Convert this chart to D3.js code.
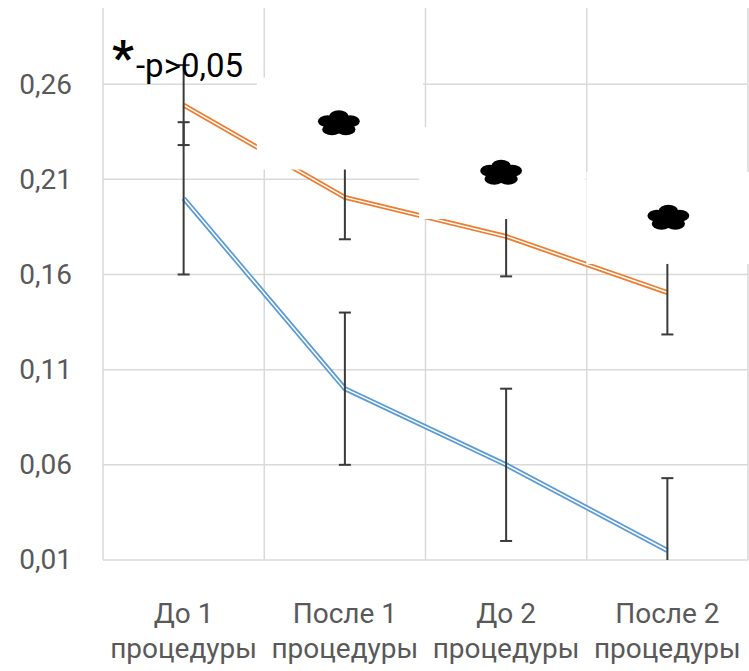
<!DOCTYPE html>
<html>
<head>
    <meta charset="utf-8">
    <title>chart</title>
    <script src="https://cdnjs.cloudflare.com/ajax/libs/d3/7.8.5/d3.min.js"></script>
    <style>
        body { margin: 0; background: #fff; }
        text { font-family: Roboto, "Open Sans", sans-serif; }
    </style>
</head>
<body>
    <div id="wrapper"></div>

    <script>
        // values
        const stages = ["До 1", "После 1", "До 2", "После 2"];
        const stageSub = ["процедуры", "процедуры", "процедуры", "процедуры"];
        const blueValues = [0.200, 0.100, 0.060, 0.015];
        const blueErrors = [0.040, 0.040, 0.040, 0.038];
        const orangeValues = [0.249, 0.2005, 0.180, 0.1505];
        const orangeErrors = [0.021, 0.022, 0.021, 0.022];
        const yTicks = [0.01, 0.06, 0.11, 0.16, 0.21, 0.26];
        const yTickLabels = ["0,01", "0,06", "0,11", "0,16", "0,21", "0,26"];
        const markStages = ["После 1", "До 2", "После 2"];
        const markValues = [0.2393, 0.2133, 0.1897];

        const dimensions = {
            width: 749,
            height: 671,
            margin: { top: 8, right: 1, bottom: 111, left: 103 }
        };
        dimensions.boundedWidth = dimensions.width - dimensions.margin.left - dimensions.margin.right;
        dimensions.boundedHeight = dimensions.height - dimensions.margin.top - dimensions.margin.bottom;

        const blue = "#5B9BD5";
        const orange = "#ED7D31";
        const grid = "#D9D9D9";
        const labelColor = "#595959";

        const wrapper = d3.select("#wrapper").append("svg")
            .attr("width", dimensions.width)
            .attr("height", dimensions.height);

        const bounds = wrapper.append("g")
            .attr("transform", `translate(${dimensions.margin.left},${dimensions.margin.top})`);

        bounds.append("clipPath").attr("id", "plot-clip")
            .append("rect")
            .attr("width", dimensions.boundedWidth)
            .attr("height", dimensions.boundedHeight);

        const xScale = d3.scaleBand().domain(stages).range([0, dimensions.boundedWidth]);
        const yScale = d3.scaleLinear().domain([0.01, 0.30]).range([dimensions.boundedHeight, 0]);
        const xCenter = s => xScale(s) + xScale.bandwidth() / 2;

        // gridlines
        bounds.append("g").selectAll("line").data(yTicks).join("line")
            .attr("x1", 0).attr("x2", dimensions.boundedWidth)
            .attr("y1", d => yScale(d)).attr("y2", d => yScale(d))
            .attr("stroke", grid).attr("stroke-width", 1.5);

        const edges = stages.map(s => xScale(s)).concat([dimensions.boundedWidth]);
        bounds.append("g").selectAll("line").data(edges).join("line")
            .attr("x1", d => d).attr("x2", d => d)
            .attr("y1", 0).attr("y2", dimensions.boundedHeight)
            .attr("stroke", grid).attr("stroke-width", 1.5);

        // axes
        const yAxis = bounds.append("g")
            .call(d3.axisLeft(yScale).tickValues(yTicks).tickFormat((d, i) => yTickLabels[i]).tickSize(0).tickPadding(31));
        yAxis.select(".domain").remove();
        yAxis.selectAll("text")
            .style("font-family", "Roboto, sans-serif")
            .attr("font-size", 28).attr("fill", labelColor);

        const xAxis = bounds.append("g")
            .attr("transform", `translate(0,${dimensions.boundedHeight})`)
            .call(d3.axisBottom(xScale).tickSize(0).tickFormat(() => ""));
        xAxis.select(".domain").remove();
        xAxis.selectAll(".tick text").each(function (d, i) {
            const t = d3.select(this)
                .attr("y", 0).attr("dy", 0)
                .attr("font-size", 28).attr("fill", labelColor)
                .style("font-family", "Roboto, sans-serif");
            t.append("tspan").attr("x", 0).attr("y", 63).text(stages[i]);
            t.append("tspan").attr("x", 0).attr("y", 98).text(stageSub[i]);
        });

        // double (compound) lines
        const series = [
            { values: blueValues, errors: blueErrors, color: blue },
            { values: orangeValues, errors: orangeErrors, color: orange }
        ];
        const lineGenerator = d3.line()
            .x((d, i) => xCenter(stages[i]))
            .y(d => yScale(d));

        series.forEach(s => {
            bounds.append("path").attr("d", lineGenerator(s.values))
                .attr("fill", "none").attr("stroke", s.color).attr("stroke-width", 5)
                .attr("stroke-linejoin", "round");
            bounds.append("path").attr("d", lineGenerator(s.values))
                .attr("fill", "none").attr("stroke", "#fff").attr("stroke-width", 1.5)
                .attr("stroke-linejoin", "round");
        });

        // error bars
        const errLayer = bounds.append("g").attr("clip-path", "url(#plot-clip)")
            .attr("stroke", "#3a3a3a").attr("stroke-width", 2);
        series.forEach(s => {
            s.values.forEach((v, i) => {
                const cx = xCenter(stages[i]);
                const top = yScale(v + s.errors[i]);
                const bottom = yScale(v - s.errors[i]);
                errLayer.append("line").attr("x1", cx).attr("x2", cx).attr("y1", top).attr("y2", bottom);
                errLayer.append("line").attr("x1", cx - 6).attr("x2", cx + 6).attr("y1", top).attr("y2", top);
                errLayer.append("line").attr("x1", cx - 6).attr("x2", cx + 6).attr("y1", bottom).attr("y2", bottom);
            });
        });

        // white boxes with black flower marks
        const markShift = [-6, -5, 1];
        markStages.forEach((s, i) => {
            const g = wrapper.append("g")
                .attr("transform", `translate(${dimensions.margin.left + xCenter(s) + markShift[i]},${dimensions.margin.top + yScale(markValues[i])})`);
            g.append("rect").attr("x", -82).attr("y", -46).attr("width", 166).attr("height", 92).attr("fill", "#fff");
            const flower = g.append("g").attr("transform", "scale(21.5,13.2)").attr("fill", "#000");
            flower.append("circle").attr("r", 0.6);
            d3.range(5).forEach(k => {
                const a = (-90 + k * 72) * Math.PI / 180;
                flower.append("circle").attr("cx", 0.55 * Math.cos(a)).attr("cy", 0.55 * Math.sin(a)).attr("r", 0.45);
            });
        });

        // significance note
        wrapper.append("text").attr("x", 112).attr("y", 74)
            .attr("font-size", 48).attr("font-weight", "bold").attr("fill", "#000").text("*");
        wrapper.append("text").attr("x", 136).attr("y", 77)
            .attr("font-size", 33).attr("fill", "#000").text("-p>0,05");
    </script>
</body>
</html>
